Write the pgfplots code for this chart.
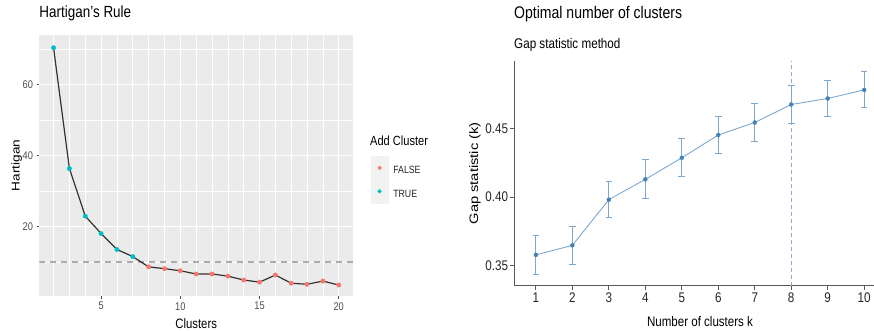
\documentclass[border=0pt]{standalone}
\usepackage{pgfplots}
\pgfplotsset{compat=1.18}
\usepackage{pgfplotstable}
\usepackage{graphicx}
\usepackage{fontspec}
\setmainfont{Liberation Sans}
\definecolor{ggbg}{HTML}{EBEBEB}
\definecolor{ggkey}{HTML}{F2F2F2}
\definecolor{ggred}{HTML}{F8766D}
\definecolor{ggcyan}{HTML}{00BFC4}
\definecolor{tickgrey}{HTML}{4D4D4D}
\definecolor{hlinegrey}{HTML}{ABABAB}
\definecolor{steel}{HTML}{4682B4}
\definecolor{steellight}{HTML}{7FA8CE}
\newcommand{\vs}[1]{\scalebox{1}[1.2]{#1}}
\newcommand{\hs}[1]{\scalebox{1.2}[1]{#1}}

\pgfplotstableread{
k h
2 70.3
3 36.3
4 22.9
5 18.0
6 13.5
7 11.5
8 8.6
9 8.1
10 7.5
11 6.6
12 6.6
13 6.0
14 4.9
15 4.3
16 6.3
17 4.0
18 3.7
19 4.6
20 3.5
}\hartAll
\pgfplotstableread{
k h
2 70.3
3 36.3
4 22.9
5 18.0
6 13.5
7 11.5
}\hartTrue
\pgfplotstableread{
k h
8 8.6
9 8.1
10 7.5
11 6.6
12 6.6
13 6.0
14 4.9
15 4.3
16 6.3
17 4.0
18 3.7
19 4.6
20 3.5
}\hartFalse
\pgfplotstableread{
k g e
1 0.3576 0.0142
2 0.3646 0.0141
3 0.3981 0.0133
4 0.4130 0.0143
5 0.4288 0.0139
6 0.4455 0.0138
7 0.4547 0.0139
8 0.4679 0.0139
9 0.4723 0.0134
10 0.4786 0.0132
}\gapT

\begin{document}
\begin{tikzpicture}
\path[use as bounding box] (0,0) rectangle (874bp,331bp);
% ---------------- left panel ----------------
\begin{axis}[
  at={(39.3bp,35bp)}, anchor=south west,
  scale only axis, width=313.7bp, height=261bp,
  xmin=1.1, xmax=20.9, ymin=0.4, ymax=73.9,
  axis background/.style={fill=ggbg},
  axis line style={draw=none},
  xtick={5,10,15,20}, xticklabels={\vs{5},\vs{10},\vs{15},\vs{20}},
  minor xtick={2,3,4,6,7,8,9,11,12,13,14,16,17,18,19},
  ytick={20,40,60}, yticklabels={\vs{20},\vs{40},\vs{60}},
  minor ytick={10,30,50,70},
  grid=both,
  major grid style={white, line width=1.1bp},
  minor grid style={white, line width=0.6bp},
  minor tick length=0pt,
  major tick length=2.75bp,
  tick align=outside,
  xtick pos=left, ytick pos=left,
  major tick style={tickgrey, line width=0.6bp},
  ticklabel style={font=\fontsize{9.3}{10}\selectfont, text=tickgrey},
  title={\vs{Hartigan's Rule}},
  title style={at={(axis description cs:0,1.0594)}, anchor=west, inner sep=0pt, font=\fontsize{13.5}{15}\selectfont},
  xlabel={\vs{Clusters}},
  xlabel style={at={(axis description cs:0.5,-0.085)}, anchor=north, inner sep=0pt, font=\fontsize{11.4}{13}\selectfont},
  ylabel={\hs{Hartigan}},
  ylabel style={at={(axis description cs:-0.072,0.5)}, anchor=center, inner sep=0pt, font=\fontsize{11.4}{13}\selectfont},
  legend image code/.code={
    \fill[ggkey] (0bp,-8.4bp) rectangle (17bp,14.6bp);
    \fill[#1] (8.5bp,3.1bp) circle (1.9bp);
  },
  legend style={at={(axis description cs:1.0564,0.5364)}, anchor=north west,
    draw=none, fill=none, inner sep=0pt, row sep=0pt, column sep=5bp,
    font=\fontsize{8.8}{10}\selectfont, nodes={inner sep=0pt, text=black!85}},
  legend cell align=left,
]
\addplot[hlinegrey, line width=1.2bp, dash pattern=on 6bp off 5bp, forget plot] coordinates {(1.1,10) (20.9,10)};
\addplot[black!80, line width=1.2bp, forget plot] table[x=k,y=h]{\hartAll};
\addplot[only marks, mark=*, mark size=2.2bp, ggred, forget plot] table[x=k,y=h]{\hartFalse};
\addplot[only marks, mark=*, mark size=2.2bp, ggcyan, forget plot] table[x=k,y=h]{\hartTrue};
\addlegendimage{ggred}
\addlegendentry{\vs{FALSE}}
\addlegendimage{ggcyan}
\addlegendentry{\vs{TRUE}}
\end{axis}
\node[anchor=west, inner sep=0pt, font=\fontsize{11.1}{13}\selectfont] at (370bp,190.3bp) {\vs{Add Cluster}};
% ---------------- right panel ----------------
\begin{axis}[
  at={(514bp,45.3bp)}, anchor=south west,
  scale only axis, width=360bp, height=224.7bp,
  xmin=0.4, xmax=10.27, ymin=0.335, ymax=0.4998,
  axis x line*=bottom, axis y line*=left,
  axis line style={black!65, line width=0.8bp},
  xtick={1,2,3,4,5,6,7,8,9,10},
  xticklabels={\vs{1},\vs{2},\vs{3},\vs{4},\vs{5},\vs{6},\vs{7},\vs{8},\vs{9},\vs{10}},
  ytick={0.35,0.40,0.45}, yticklabels={\vs{0.35},\vs{0.40},\vs{0.45}},
  tick align=outside, major tick length=4bp, minor tick num=0,
  major tick style={black!65, line width=0.8bp},
  ticklabel style={font=\fontsize{11.7}{13}\selectfont, text=black!85},
  yticklabel style={xshift=1.5bp},
  title={\vs{Optimal number of clusters}},
  title style={at={(axis description cs:0,1.1825)}, anchor=west, inner sep=0pt, font=\fontsize{14.1}{16}\selectfont},
  xlabel={\vs{Number of clusters k}},
  xlabel style={at={(axis description cs:0.5167,-0.160)}, anchor=center, inner sep=0pt, font=\fontsize{11.6}{13}\selectfont},
  ylabel={\hs{Gap statistic (k)}},
  ylabel style={at={(axis description cs:-0.1083,0.5)}, anchor=center, inner sep=0pt, font=\fontsize{12.3}{14}\selectfont},
]
\addplot[steel!65, line width=0.7bp, dash pattern=on 4bp off 3bp] coordinates {(8,0.335) (8,0.4998)};
\addplot[steellight, line width=0.9bp, mark=none] table[x=k,y=g]{\gapT};
\addplot[draw=none, mark=*, mark size=2bp, mark options={fill=steel, draw=steel},
  error bars/.cd, y dir=both, y explicit,
  error bar style={steellight, line width=1.1bp},
  error mark options={rotate=90, steellight, line width=1.1bp, mark size=3.3bp}]
  table[x=k, y=g, y error=e]{\gapT};
\end{axis}
\node[anchor=west, inner sep=0pt, font=\fontsize{11.7}{13}\selectfont] at (514bp,286bp) {\vs{Gap statistic method}};
\end{tikzpicture}
\end{document}
